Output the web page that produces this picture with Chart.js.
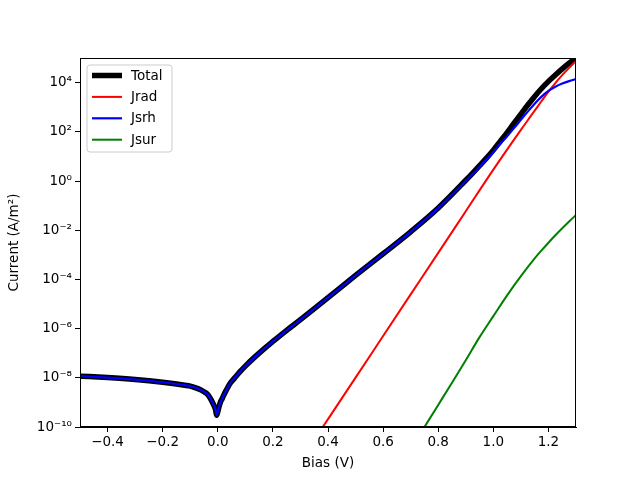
<!DOCTYPE html>
<html>
<head>
<meta charset="utf-8">
<script src="https://cdn.jsdelivr.net/npm/chart.js@4/dist/chart.umd.min.js"></script>
<style>
  html, body { margin: 0; padding: 0; background: #ffffff; }
  #wrap { width: 640px; height: 480px; }
</style>
</head>
<body>
<div id="wrap"><canvas id="c" width="640" height="480"></canvas></div>
<script>
// ---- Data ----
const seriesNames = ["Total", "Jrad", "Jsrh", "Jsur"];

const biasMain = [-0.5, -0.4, -0.3, -0.2, -0.15, -0.12, -0.1, -0.085, -0.07, -0.06, -0.05, -0.035, -0.025, -0.015, -0.008, -0.004,
  0.0, 0.005, 0.01, 0.015, 0.02, 0.03, 0.045, 0.06, 0.08, 0.1, 0.13, 0.17, 0.2, 0.25, 0.3, 0.4, 0.5, 0.6,
  0.7, 0.8, 0.9, 0.925, 0.95, 0.975, 1.0, 1.025, 1.05, 1.075, 1.1, 1.125, 1.15, 1.175, 1.2, 1.225, 1.25, 1.275, 1.3];

const jsrhValues = [1.17e-8, 1.02e-8, 8.5e-9, 6.6e-9, 5.6e-9, 5.0e-9, 4.6e-9, 4.1e-9, 3.55e-9, 3.15e-9, 2.7e-9, 2.0e-9, 1.32e-9, 7.9e-10, 5.0e-10, 3.0e-10,
  4.2e-10, 7.0e-10, 1.05e-9, 1.35e-9, 1.8e-9, 3.0e-9, 6.0e-9, 9.5e-9, 1.74e-8, 3.0e-8, 6.3e-8, 1.58e-7, 3.0e-7, 8.5e-7, 2.3e-6, 1.8e-5, 1.45e-4, 1.1e-3,
  8.5e-3, 7.9e-2, 1.0, 1.9, 3.7, 7.4, 15, 32, 66, 141, 309, 660, 1380, 2690, 4570, 6760, 9120, 11500, 13800];

const totalValues = [1.17e-8, 1.02e-8, 8.5e-9, 6.6e-9, 5.6e-9, 5.0e-9, 4.6e-9, 4.1e-9, 3.55e-9, 3.15e-9, 2.7e-9, 2.0e-9, 1.32e-9, 7.9e-10, 5.0e-10, 3.0e-10,
  4.2e-10, 7.0e-10, 1.05e-9, 1.35e-9, 1.8e-9, 3.0e-9, 6.0e-9, 9.5e-9, 1.74e-8, 3.0e-8, 6.3e-8, 1.58e-7, 3.0e-7, 8.5e-7, 2.3e-6, 1.8e-5, 1.45e-4, 1.1e-3,
  8.6e-3, 8.0e-2, 1.07, 2.1, 4.2, 8.5, 18, 41, 93, 224, 525, 1230, 2750, 5750, 11200, 20400, 36300, 61700, 102000];

const biasRad = [0.37, 0.5, 0.6, 0.7, 0.8, 0.9, 1.0, 1.1, 1.125, 1.15, 1.175, 1.2, 1.225, 1.25, 1.275, 1.3];
const jradValues = [6.5e-11, 1.02e-8, 5.0e-7, 2.45e-5, 1.2e-3, 5.9e-2, 2.9, 120, 295, 720, 1780, 4300, 9550, 20000, 39800, 76000];

const biasSur = [0.74, 0.8, 0.85, 0.9, 0.95, 1.0, 1.05, 1.1, 1.15, 1.175, 1.2, 1.225, 1.25, 1.275, 1.3];
const jsurValues = [6.6e-11, 7.9e-10, 6.3e-9, 5.2e-8, 4.5e-7, 3.2e-6, 2.24e-5, 1.35e-4, 7.1e-4, 1.51e-3, 3.1e-3, 6.2e-3, 1.2e-2, 2.26e-2, 4.17e-2];

const xTicks = [-0.4, -0.2, 0.0, 0.2, 0.4, 0.6, 0.8, 1.0, 1.2];
const yTickExponents = [-10, -8, -6, -4, -2, 0, 2, 4];

// ---- helpers ----
const pairs = (xs, ys) => xs.map((x, i) => ({ x: x, y: ys[i] }));
const supMap = { "-": "\u207B", "0": "\u2070", "1": "\u00B9", "2": "\u00B2", "3": "\u00B3", "4": "\u2074",
  "5": "\u2075", "6": "\u2076", "7": "\u2077", "8": "\u2078", "9": "\u2079" };
const sup = s => String(s).split("").map(c => supMap[c] || c).join("");
const FONT = "'DejaVu Sans', sans-serif";

const frame = {
  id: "frame",
  afterDatasetsDraw(chart) {
    const a = chart.chartArea, ctx = chart.ctx;
    ctx.save();
    ctx.strokeStyle = "#000";
    ctx.lineWidth = 1;
    ctx.strokeRect(Math.round(a.left) + 0.5, Math.round(a.top) + 0.5,
      Math.round(a.right - a.left) - 1, Math.round(a.bottom - a.top) - 1);
    ctx.restore();
  }
};

const boxLegend = {
  id: "boxLegend",
  afterDraw(chart) {
    const a = chart.chartArea, ctx = chart.ctx;
    const x0 = a.left + 7, y0 = a.top + 7, w = 85, h = 87, r = 3;
    ctx.save();
    ctx.beginPath();
    ctx.moveTo(x0 + r, y0);
    ctx.lineTo(x0 + w - r, y0); ctx.quadraticCurveTo(x0 + w, y0, x0 + w, y0 + r);
    ctx.lineTo(x0 + w, y0 + h - r); ctx.quadraticCurveTo(x0 + w, y0 + h, x0 + w - r, y0 + h);
    ctx.lineTo(x0 + r, y0 + h); ctx.quadraticCurveTo(x0, y0 + h, x0, y0 + h - r);
    ctx.lineTo(x0, y0 + r); ctx.quadraticCurveTo(x0, y0, x0 + r, y0);
    ctx.closePath();
    ctx.fillStyle = "rgba(255,255,255,0.8)";
    ctx.fill();
    ctx.strokeStyle = "#cccccc";
    ctx.lineWidth = 1;
    ctx.stroke();
    ctx.font = "13.5px " + FONT;
    ctx.textBaseline = "middle";
    chart.data.datasets.forEach((ds, i) => {
      const yy = y0 + 10.5 + i * 21.4;
      ctx.beginPath();
      ctx.strokeStyle = ds.borderColor;
      ctx.lineWidth = ds.borderWidth;
      ctx.moveTo(x0 + 5, yy);
      ctx.lineTo(x0 + 35, yy);
      ctx.stroke();
      ctx.fillStyle = "#000";
      ctx.fillText(ds.label, x0 + 44, yy + 0.5);
    });
    ctx.restore();
  }
};

new Chart(document.getElementById("c"), {
  type: "line",
  data: {
    datasets: [
      { label: seriesNames[0], data: pairs(biasMain, totalValues), borderColor: "#000000", borderWidth: 5.5, order: 4 },
      { label: seriesNames[1], data: pairs(biasRad, jradValues), borderColor: "#ff0000", borderWidth: 2, order: 3 },
      { label: seriesNames[2], data: pairs(biasMain, jsrhValues), borderColor: "#0000ff", borderWidth: 2.2, order: 2 },
      { label: seriesNames[3], data: pairs(biasSur, jsurValues), borderColor: "#008000", borderWidth: 2, order: 1 }
    ]
  },
  options: {
    responsive: false,
    animation: false,
    devicePixelRatio: 1,
    layout: { padding: { top: 58, right: 64, left: 0, bottom: 0 } },
    elements: {
      point: { radius: 0 },
      line: { tension: 0, cubicInterpolationMode: "monotone", fill: false, borderCapStyle: "butt", borderJoinStyle: "round" }
    },
    plugins: { legend: { display: false }, tooltip: { enabled: false } },
    scales: {
      x: {
        type: "linear",
        min: -0.5, max: 1.3,
        afterBuildTicks: s => { s.ticks = xTicks.map(v => ({ value: v })); },
        afterFit: s => { s.height = 53; },
        ticks: {
          color: "#000", font: { family: FONT, size: 13.5 }, padding: 2, maxRotation: 0,
          callback: v => (v < 0 ? "\u2212" : "") + Math.abs(v).toFixed(1)
        },
        grid: { display: true, drawOnChartArea: false, drawTicks: true, tickLength: 5, color: "#000", tickWidth: 1 },
        border: { display: true, color: "#000", width: 1 },
        title: { display: true, text: "Bias (V)", color: "#000", font: { family: FONT, size: 13.5 }, padding: { top: 0, bottom: 8 } }
      },
      y: {
        type: "logarithmic",
        min: 1e-10, max: 1e5,
        afterBuildTicks: s => { s.ticks = yTickExponents.map(e => ({ value: Math.pow(10, e), major: true })); },
        afterFit: s => { s.width = 80; },
        ticks: {
          color: "#000", font: { family: FONT, size: 13.5 }, padding: 3,
          callback: v => "10" + sup(Math.round(Math.log10(v)))
        },
        grid: { display: true, drawOnChartArea: false, drawTicks: true, tickLength: 5, color: "#000", tickWidth: 1 },
        border: { display: true, color: "#000", width: 1 },
        title: { display: true, text: "Current (A/m\u00B2)", color: "#000", font: { family: FONT, size: 13.5 }, padding: { top: 6, bottom: 0 } }
      }
    }
  },
  plugins: [frame, boxLegend]
});
</script>
</body>
</html>
